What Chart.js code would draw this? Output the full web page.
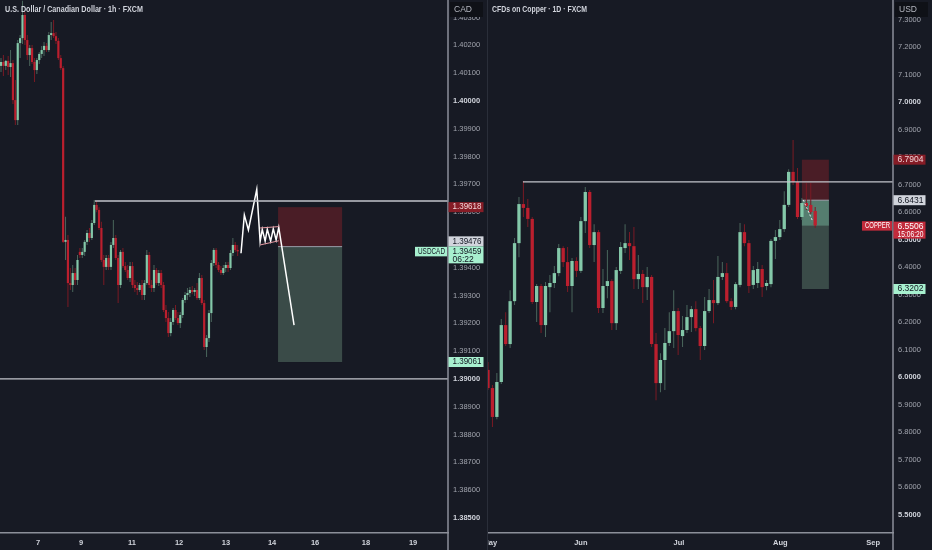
<!DOCTYPE html>
<html>
<head>
<meta charset="utf-8">
<script src="https://cdn.jsdelivr.net/npm/chart.js@4.4.1/dist/chart.umd.min.js"></script>
<style>
  html, body { margin: 0; padding: 0; background: #171a24; }
  #wrap { position: relative; width: 932px; height: 550px; overflow: hidden; }
  canvas { position: absolute; top: 0; }
  #usdcad { left: 0; }
  #copper { left: 487px; }
</style>
</head>
<body>
<div id="wrap">
  <canvas id="usdcad" width="487" height="550"></canvas>
  <canvas id="copper" width="445" height="550"></canvas>
</div>
<script>
// ---- USDCAD 1h ----
const cadOpen = [
  1.40126, 1.40140, 1.40126, 1.40144, 1.40122, 1.40136, 1.40003, 1.39931, 1.40208, 1.40226,
  1.40309, 1.40219, 1.40165, 1.40190, 1.40140, 1.40111, 1.40147, 1.40169, 1.40183, 1.40198,
  1.40183, 1.40237, 1.40244, 1.40233, 1.40216, 1.40154, 1.40118, 1.39493, 1.39500, 1.39345,
  1.39338, 1.39381, 1.39356, 1.39457, 1.39446, 1.39457, 1.39493, 1.39525, 1.39507, 1.39561,
  1.39626, 1.39608, 1.39543, 1.39428, 1.39403, 1.39435, 1.39403, 1.39482, 1.39507, 1.39435,
  1.39338, 1.39457, 1.39406, 1.39392, 1.39363, 1.39406, 1.39338, 1.39327, 1.39320, 1.39338,
  1.39302, 1.39345, 1.39446, 1.39338, 1.39327, 1.39392, 1.39345, 1.39381, 1.39338, 1.39248,
  1.39219, 1.39165, 1.39205, 1.39248, 1.39219, 1.39201, 1.39230, 1.39284, 1.39302, 1.39309,
  1.39320, 1.39313, 1.39320, 1.39291, 1.39363, 1.39273, 1.39115, 1.39147, 1.39237, 1.39417,
  1.39464, 1.39410, 1.39392, 1.39381, 1.39399, 1.39410, 1.39399, 1.39453, 1.39482, 1.39464
];
const cadHigh = [
  1.40154, 1.40165, 1.40147, 1.40162, 1.40183, 1.40147, 1.40075, 1.40219, 1.40237, 1.40360,
  1.40320, 1.40237, 1.40201, 1.40201, 1.40154, 1.40154, 1.40176, 1.40198, 1.40212, 1.40208,
  1.40248, 1.40284, 1.40291, 1.40248, 1.40226, 1.40165, 1.40126, 1.39583, 1.39518, 1.39399,
  1.39410, 1.39399, 1.39446, 1.39471, 1.39471, 1.39500, 1.39536, 1.39543, 1.39572, 1.39644,
  1.39640, 1.39618, 1.39565, 1.39446, 1.39446, 1.39446, 1.39493, 1.39572, 1.39518, 1.39446,
  1.39464, 1.39471, 1.39421, 1.39410, 1.39421, 1.39421, 1.39356, 1.39349, 1.39345, 1.39356,
  1.39356, 1.39464, 1.39457, 1.39356, 1.39410, 1.39399, 1.39392, 1.39392, 1.39349, 1.39266,
  1.39241, 1.39219, 1.39255, 1.39266, 1.39241, 1.39241, 1.39291, 1.39313, 1.39327, 1.39331,
  1.39334, 1.39327, 1.39345, 1.39381, 1.39374, 1.39284, 1.39158, 1.39248, 1.39428, 1.39471,
  1.39471, 1.39421, 1.39406, 1.39410, 1.39421, 1.39421, 1.39464, 1.39507, 1.39493, 1.39482
];
const cadLow = [
  1.40104, 1.40090, 1.40111, 1.40093, 1.40086, 1.39989, 1.39913, 1.39913, 1.40154, 1.40205,
  1.40201, 1.40147, 1.40126, 1.40133, 1.40068, 1.40097, 1.40133, 1.40154, 1.40162, 1.40176,
  1.40176, 1.40219, 1.40226, 1.40205, 1.40147, 1.40111, 1.39489, 1.39428, 1.39259, 1.39320,
  1.39313, 1.39338, 1.39338, 1.39435, 1.39435, 1.39442, 1.39482, 1.39493, 1.39500, 1.39554,
  1.39600, 1.39536, 1.39421, 1.39338, 1.39392, 1.39392, 1.39392, 1.39471, 1.39428, 1.39273,
  1.39327, 1.39399, 1.39385, 1.39356, 1.39349, 1.39327, 1.39313, 1.39302, 1.39313, 1.39284,
  1.39284, 1.39338, 1.39327, 1.39313, 1.39313, 1.39338, 1.39334, 1.39327, 1.39241, 1.39205,
  1.39151, 1.39154, 1.39194, 1.39212, 1.39194, 1.39183, 1.39219, 1.39273, 1.39284, 1.39295,
  1.39305, 1.39298, 1.39284, 1.39284, 1.39266, 1.39104, 1.39079, 1.39133, 1.39205, 1.39406,
  1.39399, 1.39385, 1.39374, 1.39374, 1.39385, 1.39385, 1.39392, 1.39442, 1.39457, 1.39442
];
const cadClose = [
  1.40140, 1.40126, 1.40144, 1.40122, 1.40136, 1.40003, 1.39931, 1.40208, 1.40226, 1.40309,
  1.40219, 1.40165, 1.40190, 1.40140, 1.40111, 1.40147, 1.40169, 1.40183, 1.40198, 1.40183,
  1.40237, 1.40244, 1.40233, 1.40216, 1.40154, 1.40118, 1.39493, 1.39500, 1.39345, 1.39338,
  1.39381, 1.39356, 1.39428, 1.39446, 1.39457, 1.39493, 1.39525, 1.39507, 1.39561, 1.39626,
  1.39608, 1.39543, 1.39428, 1.39403, 1.39435, 1.39403, 1.39482, 1.39507, 1.39435, 1.39338,
  1.39457, 1.39406, 1.39392, 1.39363, 1.39406, 1.39338, 1.39327, 1.39320, 1.39338, 1.39302,
  1.39345, 1.39446, 1.39338, 1.39327, 1.39392, 1.39345, 1.39381, 1.39338, 1.39248, 1.39219,
  1.39165, 1.39205, 1.39248, 1.39219, 1.39201, 1.39230, 1.39284, 1.39302, 1.39309, 1.39320,
  1.39313, 1.39320, 1.39291, 1.39363, 1.39273, 1.39115, 1.39147, 1.39237, 1.39417, 1.39464,
  1.39410, 1.39392, 1.39381, 1.39399, 1.39410, 1.39399, 1.39453, 1.39482, 1.39464, 1.39459
];
const cadDayAt = [15.5, 33.5, 54.8, 74.5, 94.1, 113.4, 131.4, 152.7, 172.4];
const cadDayLabels = ['7', '9', '11', '12', '13', '14', '16', '18', '19'];
const cadPriceTicks = [1.385, 1.386, 1.387, 1.388, 1.389, 1.390, 1.391, 1.392, 1.393, 1.394,
  1.395, 1.396, 1.397, 1.398, 1.399, 1.400, 1.401, 1.402, 1.403];
const cadLevels = [1.39640, 1.39000];
const cadLevelFrom = [39.3, -0.42];
const cadPathX = [100.4, 101.8, 103.5, 107.0, 108.4, 109.3, 110.5, 111.4, 112.8, 113.9, 115.1, 116.2, 122.6];
const cadPathY = [1.39452, 1.39590, 1.39536, 1.39682, 1.39494, 1.39538, 1.39496, 1.39538, 1.39496, 1.39540, 1.39500, 1.39545, 1.39194];
const cadFlagX = [108.4, 116.2];
const cadFlagTop = [1.39543, 1.39548];
const cadFlagBottom = [1.39482, 1.39497];
const cadTradeX = [115.9, 142.7];
const cadTrade = [1.39618, 1.39476, 1.39061]; // stop, entry, target
const cadLast = 1.39459;

// ---- Copper 1D ----
const cuOpen = [
  6.026, 5.960, 5.855, 5.982, 6.189, 6.120, 6.276, 6.487, 6.629, 6.615,
  6.575, 6.273, 6.331, 6.189, 6.327, 6.342, 6.378, 6.469, 6.418, 6.331,
  6.422, 6.386, 6.567, 6.673, 6.480, 6.527, 6.251, 6.331, 6.349, 6.196,
  6.386, 6.469, 6.487, 6.476, 6.356, 6.375, 6.327, 6.364, 6.120, 5.978,
  6.062, 6.124, 6.167, 6.240, 6.149, 6.171, 6.218, 6.247, 6.178, 6.113,
  6.240, 6.280, 6.269, 6.364, 6.378, 6.276, 6.255, 6.335, 6.527, 6.487,
  6.335, 6.342, 6.393, 6.331, 6.338, 6.495, 6.509, 6.538, 6.626, 6.746,
  6.709, 6.582, 6.633, 6.626, 6.604
];
const cuHigh = [
  6.055, 5.971, 6.015, 6.211, 6.236, 6.316, 6.506, 6.655, 6.713, 6.647,
  6.582, 6.338, 6.338, 6.346, 6.371, 6.404, 6.484, 6.476, 6.473, 6.433,
  6.436, 6.582, 6.691, 6.680, 6.556, 6.535, 6.393, 6.462, 6.356, 6.400,
  6.491, 6.556, 6.527, 6.546, 6.444, 6.389, 6.400, 6.371, 6.160, 6.087,
  6.178, 6.236, 6.316, 6.251, 6.222, 6.262, 6.258, 6.276, 6.186, 6.291,
  6.320, 6.353, 6.440, 6.418, 6.415, 6.287, 6.346, 6.560, 6.556, 6.498,
  6.404, 6.418, 6.407, 6.353, 6.502, 6.535, 6.571, 6.676, 6.756, 6.862,
  6.760, 6.651, 6.706, 6.706, 6.618
];
const cuLow = [
  5.953, 5.818, 5.847, 5.975, 6.113, 6.106, 6.262, 6.436, 6.582, 6.546,
  6.266, 6.200, 6.160, 6.146, 6.236, 6.324, 6.367, 6.400, 6.309, 6.236,
  6.364, 6.378, 6.524, 6.469, 6.418, 6.233, 6.233, 6.287, 6.171, 6.171,
  6.375, 6.451, 6.426, 6.320, 6.320, 6.269, 6.280, 6.109, 5.916, 5.945,
  5.953, 6.113, 6.106, 6.080, 6.109, 6.160, 6.164, 6.167, 6.062, 6.098,
  6.233, 6.196, 6.262, 6.353, 6.269, 6.244, 6.247, 6.327, 6.476, 6.306,
  6.320, 6.324, 6.291, 6.316, 6.327, 6.429, 6.498, 6.527, 6.618, 6.698,
  6.575, 6.571, 6.607, 6.593, 6.542
];
const cuClose = [
  5.960, 5.855, 5.982, 6.189, 6.120, 6.276, 6.487, 6.629, 6.615, 6.575,
  6.273, 6.331, 6.189, 6.331, 6.342, 6.378, 6.469, 6.418, 6.331, 6.422,
  6.386, 6.567, 6.673, 6.480, 6.527, 6.251, 6.331, 6.349, 6.196, 6.389,
  6.473, 6.487, 6.476, 6.356, 6.375, 6.327, 6.364, 6.120, 5.978, 6.062,
  6.124, 6.167, 6.240, 6.153, 6.171, 6.218, 6.247, 6.178, 6.113, 6.240,
  6.280, 6.269, 6.364, 6.378, 6.276, 6.255, 6.338, 6.527, 6.487, 6.331,
  6.389, 6.393, 6.327, 6.342, 6.495, 6.509, 6.538, 6.626, 6.746, 6.709,
  6.582, 6.633, 6.622, 6.600, 6.551
];
const cuMonthAt = [0.4, 21.0, 43.2, 66.1, 87.1];
const cuMonthLabels = ['May', 'Jun', 'Jul', 'Aug', 'Sep'];
const cuPriceTicks = [5.5, 5.6, 5.7, 5.8, 5.9, 6.0, 6.1, 6.2, 6.3, 6.4,
  6.5, 6.6, 6.7, 6.8, 6.9, 7.0, 7.1, 7.2, 7.3];
const cuLevels = [6.710];
const cuLevelFrom = [7.9];
const cuPathX = [71.3, 73.5];
const cuPathY = [6.644, 6.564];
const cuTradeX = [71.0, 77.1];
const cuTrade = [6.7904, 6.6431, 6.3202]; // stop, entry, target
const cuLast = 6.5506;

// ---- look ----
const FONT = "'Liberation Sans', Arial, sans-serif";
const UP = '#84c8a9', DOWN = '#bb1f2e';
const UP_WICK = '#4a665c', DOWN_WICK = '#7a1a24';
const LINE = '#c3c5cb', AXIS_LINE = '#8c8f99';
const TICK = '#a3a6af', TICK_STRONG = '#d1d4dc';
const MINT = '#a7f0cf', DARK_TXT = '#131722';

function candles(o, h, l, c, bodyPx) {
  const up = c.map((v, i) => v >= o[i]);
  return [
    {
      type: 'bar', order: 2, grouped: false,
      data: o.map((v, i) => ({ x: i, y: [Math.min(v, c[i]), Math.max(v, c[i])] })),
      backgroundColor: up.map(u => u ? UP : DOWN),
      maxBarThickness: bodyPx, minBarLength: 1,
      categoryPercentage: 1, barPercentage: 1, inflateAmount: 0
    },
    {
      type: 'bar', order: 3, grouped: false,
      data: h.map((v, i) => ({ x: i, y: [l[i], v] })),
      backgroundColor: up.map(u => u ? UP_WICK : DOWN_WICK),
      maxBarThickness: 1,
      categoryPercentage: 1, barPercentage: 1, inflateAmount: 0
    }
  ];
}

function segment(xs, ys, color, width, dash) {
  return {
    type: 'line', order: 0,
    data: xs.map((x, i) => ({ x: x, y: ys[i] })),
    borderColor: color, borderWidth: width, borderDash: dash || [],
    pointRadius: 0, tension: 0, fill: false
  };
}

// price tag on the scale; text squeezed to fit like the TradingView labels
function badge(ctx, x, top, w, h, bg, fg, lines, pad) {
  ctx.fillStyle = bg;
  ctx.fillRect(x, top, w, h);
  ctx.fillStyle = fg;
  ctx.font = '8.5px ' + FONT;
  ctx.textAlign = 'left';
  ctx.textBaseline = 'middle';
  lines.forEach((t, i) => ctx.fillText(t, x + pad, top + 5 + i * 8, w - pad - 2));
}

function decor(o) {
  return {
    id: 'decor',
    beforeDatasetsDraw(chart) {
      const { ctx, scales: { x, y } } = chart;
      const x0 = x.getPixelForValue(o.tradeX[0]);
      const x1 = x.getPixelForValue(o.tradeX[1]);
      const [ys, ye, yt] = o.trade.map(v => y.getPixelForValue(v));
      ctx.save();
      ctx.fillStyle = '#4a1d26';
      ctx.fillRect(x0, ys, x1 - x0, ye - ys);
      ctx.fillStyle = '#3a4b48';
      ctx.fillRect(x0, ye, x1 - x0, yt - ye);
      if (o.filled) {
        ctx.fillStyle = '#557d6f';
        ctx.fillRect(x0, ye, x1 - x0, y.getPixelForValue(o.last) - ye);
      }
      ctx.fillStyle = '#9a9ea8';
      ctx.fillRect(x0, ye - 0.5, x1 - x0, 1);
      ctx.restore();
    },
    afterDraw(chart) {
      const { ctx, chartArea: a, scales: { y } } = chart;
      const H = chart.height;
      ctx.save();
      // separator between plot and price scale
      ctx.fillStyle = AXIS_LINE;
      ctx.fillRect(a.right - 0.75, 0, 1.5, H);
      if (o.leftEdge) {
        ctx.fillStyle = '#2a2e39';
        ctx.fillRect(0, 0, 1, H);
      }
      // title
      ctx.fillStyle = '#d1d4dc';
      ctx.font = 'bold 9px ' + FONT;
      ctx.textAlign = 'left';
      ctx.textBaseline = 'middle';
      ctx.fillText(o.title, 5, 10, o.titleW);
      // currency box
      ctx.fillStyle = '#0f1117';
      ctx.fillRect(a.right + 2, 2, 33, 15);
      ctx.fillStyle = '#b2b5be';
      ctx.font = '8.5px ' + FONT;
      ctx.fillText(o.currency, a.right + 6, 10, 24);
      // price badges
      const px = a.right + 0.5, w = o.badgeW;
      const [ys, ye, yt] = o.trade.map(v => y.getPixelForValue(v));
      const yl = y.getPixelForValue(o.last);
      const f = o.digits;
      badge(ctx, px, ys - 5, w, 10, '#861c26', '#f1d5d8', [o.trade[0].toFixed(f)], 4);
      const lastTop = o.lastUp ? yl - 5 : yl - 4;
      const entryTop = (ye + 5 > lastTop) ? lastTop - 10 : ye - 5;
      badge(ctx, px, entryTop, w, 10, '#d1d4dc', DARK_TXT, [o.trade[1].toFixed(f)], 4);
      badge(ctx, px, yt - 5, w, 10, MINT, DARK_TXT, [o.trade[2].toFixed(f)], 4);
      badge(ctx, px, lastTop, w, 17, o.lastBg, o.lastFg, [o.last.toFixed(f), o.countdown], 4);
      badge(ctx, a.right - o.symW - 1, yl - 4.5, o.symW, 9.5, o.lastBg, o.symFg, [o.symbol], 3);
      ctx.restore();
    }
  };
}

function makeChart(id, o) {
  const isStrong = c => !!(c && c.tick) &&
    Math.abs(c.tick.value / o.strongStep - Math.round(c.tick.value / o.strongStep)) < 1e-6;
  const datasets = [];
  o.levels.forEach((p, i) => datasets.push(segment([o.levelFrom[i], o.xMax], [p, p], LINE, 1.3)));
  o.paths.forEach(s => datasets.push(s));
  candles(o.open, o.high, o.low, o.close, o.bodyPx).forEach(d => datasets.push(d));
  return new Chart(document.getElementById(id), {
    type: 'bar',
    data: { datasets: datasets },
    options: {
      responsive: false,
      animation: false,
      events: [],
      layout: { padding: 0 },
      plugins: { legend: { display: false }, tooltip: { enabled: false } },
      scales: {
        x: {
          type: 'linear', min: o.xMin, max: o.xMax, offset: false,
          grid: { display: false, drawTicks: false },
          border: { display: true, color: AXIS_LINE, width: 1.5 },
          afterBuildTicks: s => { s.ticks = o.timeAt.map(v => ({ value: v })); },
          afterFit: s => { s.height = 17; s.paddingLeft = 0; s.paddingRight = 0; },
          ticks: {
            autoSkip: false, maxRotation: 0, padding: 5, color: TICK_STRONG,
            font: { family: FONT, size: 7.5, weight: 'bold' },
            callback: (v, i) => o.timeLabels[i]
          }
        },
        y: {
          type: 'linear', position: 'right', min: o.yMin, max: o.yMax,
          grid: { display: false, drawTicks: false },
          border: { display: false },
          afterBuildTicks: s => { s.ticks = o.priceTicks.map(v => ({ value: v })); },
          afterFit: s => { s.width = 39; s.paddingTop = 0; s.paddingBottom = 0; },
          ticks: {
            padding: 5, crossAlign: 'near',
            callback: v => v.toFixed(o.digits),
            color: c => isStrong(c) ? TICK_STRONG : TICK,
            font: c => ({ family: FONT, size: 7.5, weight: isStrong(c) ? 'bold' : 'normal' })
          }
        }
      }
    },
    plugins: [decor(o)]
  });
}

makeChart('usdcad', {
  title: 'U.S. Dollar / Canadian Dollar · 1h · FXCM', titleW: 138, currency: 'CAD',
  open: cadOpen, high: cadHigh, low: cadLow, close: cadClose, bodyPx: 2.2,
  xMin: -0.42, xMax: 187.0, yMin: 1.38446, yMax: 1.40363,
  timeAt: cadDayAt, timeLabels: cadDayLabels, priceTicks: cadPriceTicks,
  digits: 5, strongStep: 0.005,
  levels: cadLevels, levelFrom: cadLevelFrom,
  paths: [
    segment(cadFlagX, cadFlagTop, '#e59aa3', 1),
    segment(cadFlagX, cadFlagBottom, '#e59aa3', 1),
    segment(cadPathX, cadPathY, '#ffffff', 1.5)
  ],
  tradeX: cadTradeX, trade: cadTrade, last: cadLast, filled: false,
  badgeW: 35, lastUp: true, lastBg: MINT, lastFg: DARK_TXT, countdown: '06:22',
  symbol: 'USDCAD', symW: 32, symFg: DARK_TXT, leftEdge: false
});

makeChart('copper', {
  title: 'CFDs on Copper · 1D · FXCM', titleW: 95, currency: 'USD',
  open: cuOpen, high: cuHigh, low: cuLow, close: cuClose, bodyPx: 3.3,
  xMin: -0.23, xMax: 91.6, yMin: 5.433, yMax: 7.371,
  timeAt: cuMonthAt, timeLabels: cuMonthLabels, priceTicks: cuPriceTicks,
  digits: 4, strongStep: 0.5,
  levels: cuLevels, levelFrom: cuLevelFrom,
  paths: [segment(cuPathX, cuPathY, '#e6e7ea', 1, [2, 2])],
  tradeX: cuTradeX, trade: cuTrade, last: cuLast, filled: true,
  badgeW: 32, lastUp: false, lastBg: '#c22b3b', lastFg: '#ffffff', countdown: '15:06:20',
  symbol: 'COPPER', symW: 30, symFg: '#ffffff', leftEdge: true
});
</script>
</body>
</html>
